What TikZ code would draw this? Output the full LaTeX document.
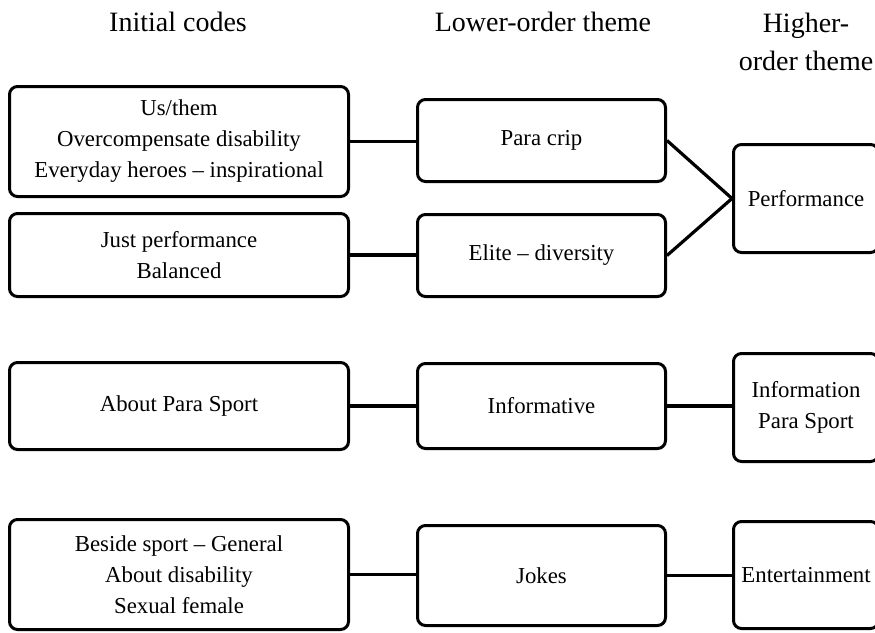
\documentclass[tikz,border=0pt]{standalone}
\usepackage{fontspec}
\setmainfont{Liberation Serif}
\usepackage{tikz}

\begin{document}
\begin{tikzpicture}[
      x = 1pt, y = -1pt,
      codebox/.style = {draw, rectangle, rounded corners = 8pt, line width = 3pt,
            align = center, inner sep = 0pt, font = \fontsize{22.8}{31}\selectfont},
      link/.style = {line width = 3.2pt},
      head/.style = {align = center, anchor = base, inner sep = 0pt,
            font = \fontsize{28}{38}\selectfont}
      ]
      \useasboundingbox (0,0) rectangle (875,632);
      \clip (0,0) rectangle (875,632);

      \node[head] (hinit) at (178,31) {Initial codes};
      \node[head] (hlower) at (543,31) {Lower-order theme};
      \node[head] (hhigher) at (806,70) {Higher-\\order theme};

      \node[codebox, minimum width = 339pt, minimum height = 110pt] (usthem) at (179,141.5)
            {Us/them\\Overcompensate disability\\Everyday heroes -- inspirational};
      \node[codebox, minimum width = 339pt, minimum height = 83pt] (justperf) at (179,255)
            {Just performance\\Balanced};
      \node[codebox, minimum width = 339pt, minimum height = 87pt] (aboutpara) at (179,406)
            {About Para Sport};
      \node[codebox, minimum width = 339pt, minimum height = 110pt] (beside) at (179,574.5)
            {Beside sport -- General\\About disability\\Sexual female};

      \node[codebox, minimum width = 248pt, minimum height = 82pt] (paracrip) at (541.5,140.5) {Para crip};
      \node[codebox, minimum width = 248pt, minimum height = 82pt] (elite) at (541.5,255.5) {Elite -- diversity};
      \node[codebox, minimum width = 248pt, minimum height = 85pt] (informative) at (541.5,406) {Informative};
      \node[codebox, minimum width = 248pt, minimum height = 100pt] (jokes) at (541.5,575.5) {Jokes};

      \node[codebox, minimum width = 145pt, minimum height = 108pt] (performance) at (806,198.5) {Performance};
      \node[codebox, minimum width = 145pt, minimum height = 108pt] (information) at (806,407.5) {Information\\Para Sport};
      \node[codebox, minimum width = 145pt, minimum height = 107pt] (entertain) at (806,575) {Entertainment};

      \draw[link] (usthem.east) -- (usthem.east -| paracrip.west);
      \draw[link] (justperf.east) -- (justperf.east -| elite.west);
      \draw[link] (aboutpara.east) -- (aboutpara.east -| informative.west);
      \draw[link] (beside.east) -- (beside.east -| jokes.west);

      \draw[link] (paracrip.east) -- (performance.west);
      \draw[link] (elite.east) -- (performance.west);
      \draw[link] (informative.east) -- (informative.east -| information.west);
      \draw[link] (jokes.east) -- (jokes.east -| entertain.west);
    \end{tikzpicture}
\end{document}
